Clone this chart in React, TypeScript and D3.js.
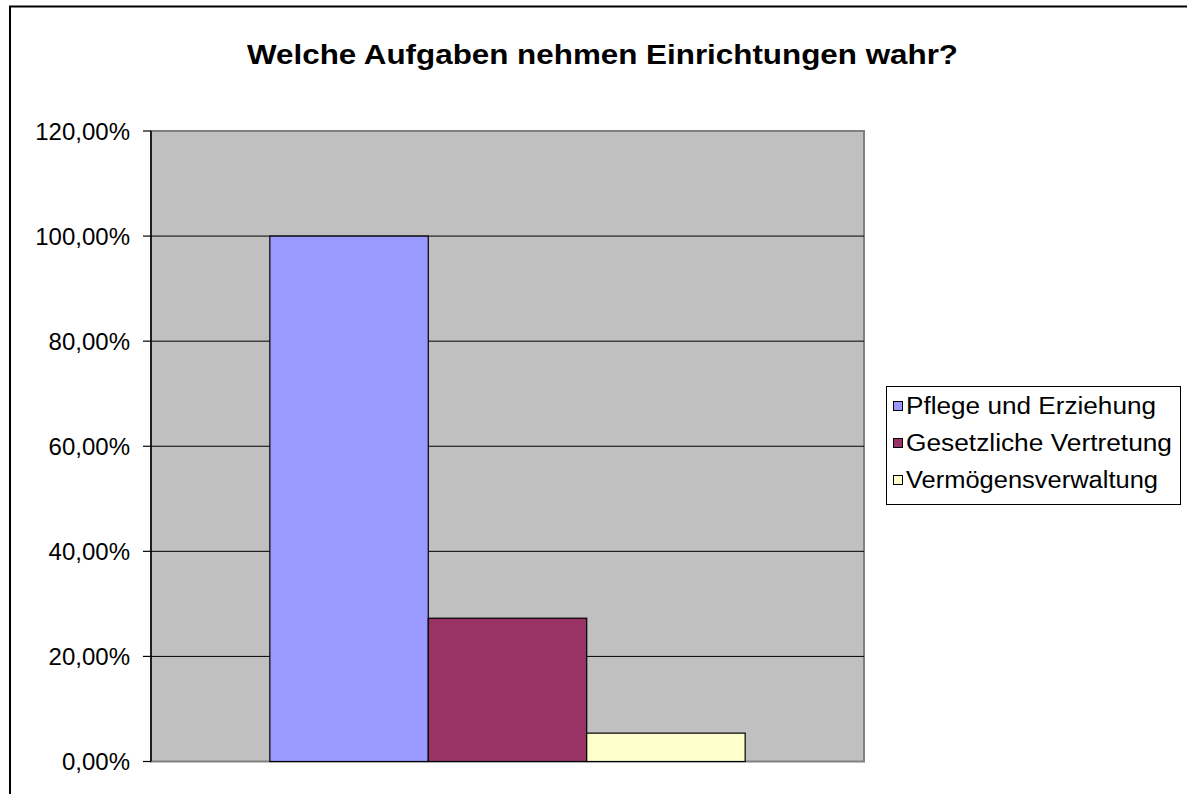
import React from "react";
import * as d3 from "d3";

const title = "Welche Aufgaben nehmen Einrichtungen wahr?";
const seriesNames = ["Pflege und Erziehung", "Gesetzliche Vertretung", "Vermögensverwaltung"];
const seriesValues = [100, 27.27, 5.4];
const seriesColors = ["#9999FF", "#993366", "#FFFFCC"];
const yTicks = [0, 20, 40, 60, 80, 100, 120];

const fmt = (v: number) => v.toFixed(2).replace(".", ",") + "%";

export default function App() {
  const plot = { left: 151, right: 864, top: 131, bottom: 761.5 };
  const y = d3.scaleLinear().domain([0, 120]).range([plot.bottom, plot.top]);
  const outer = d3.scaleBand<string>().domain(["c"]).range([plot.left, plot.right]);
  const groupW = outer.bandwidth() / (1 + 1.5 / seriesNames.length);
  const inner = d3
    .scaleBand<string>()
    .domain(seriesNames)
    .range([
      outer("c")! + (outer.bandwidth() - groupW) / 2,
      outer("c")! + (outer.bandwidth() + groupW) / 2,
    ])
    .padding(0);

  const legendTextLens = [250, 266, 252];

  return (
    <svg
      width={1187}
      height={794}
      style={{ position: "absolute", left: 0, top: 0, fontFamily: "'Liberation Sans', Arial, sans-serif" }}
    >
      <rect x={0} y={0} width={1187} height={794} fill="#fff" />
      <rect x={10} y={6.5} width={1300} height={900} fill="#fff" stroke="#000" strokeWidth={2} />
      <text
        x={247}
        y={64}
        fontSize={28}
        fontWeight="bold"
        textLength={711}
        lengthAdjust="spacingAndGlyphs"
        fill="#000"
      >
        {title}
      </text>
      {/* plot area */}
      <rect
        x={plot.left}
        y={plot.top}
        width={plot.right - plot.left}
        height={plot.bottom - plot.top}
        fill="#C0C0C0"
        stroke="#808080"
        strokeWidth={2}
      />
      {yTicks.slice(1, -1).map((t) => (
        <line key={"g" + t} x1={plot.left} x2={plot.right} y1={y(t)} y2={y(t)} stroke="#000" strokeWidth={1} />
      ))}
      {seriesNames.map((s, i) => (
        <rect
          key={s}
          x={inner(s)!}
          y={y(seriesValues[i])}
          width={inner.bandwidth()}
          height={y(0) - y(seriesValues[i])}
          fill={seriesColors[i]}
          stroke="#000"
          strokeWidth={1.2}
        />
      ))}
      {/* y axis */}
      <line x1={plot.left} x2={plot.left} y1={plot.top} y2={plot.bottom} stroke="#000" strokeWidth={1.5} />
      {yTicks.map((t) => (
        <g key={"t" + t}>
          <line x1={plot.left - 8} x2={plot.left} y1={y(t)} y2={y(t)} stroke="#000" strokeWidth={1.2} />
          <text x={130} y={y(t)} dy="0.36em" textAnchor="end" fontSize={24} fill="#000">
            {fmt(t)}
          </text>
        </g>
      ))}
      {/* legend */}
      <rect x={886.5} y={386.5} width={294} height={118} fill="#fff" stroke="#000" strokeWidth={1} />
      {seriesNames.map((s, i) => {
        const cy = 406 + i * 37;
        return (
          <g key={"l" + s}>
            <rect x={893.5} y={cy - 4.5} width={9} height={9} fill={seriesColors[i]} stroke="#000" strokeWidth={1} />
            <text
              x={906}
              y={cy}
              dy="0.36em"
              fontSize={23}
              textLength={legendTextLens[i]}
              lengthAdjust="spacingAndGlyphs"
              fill="#000"
            >
              {s}
            </text>
          </g>
        );
      })}
    </svg>
  );
}
